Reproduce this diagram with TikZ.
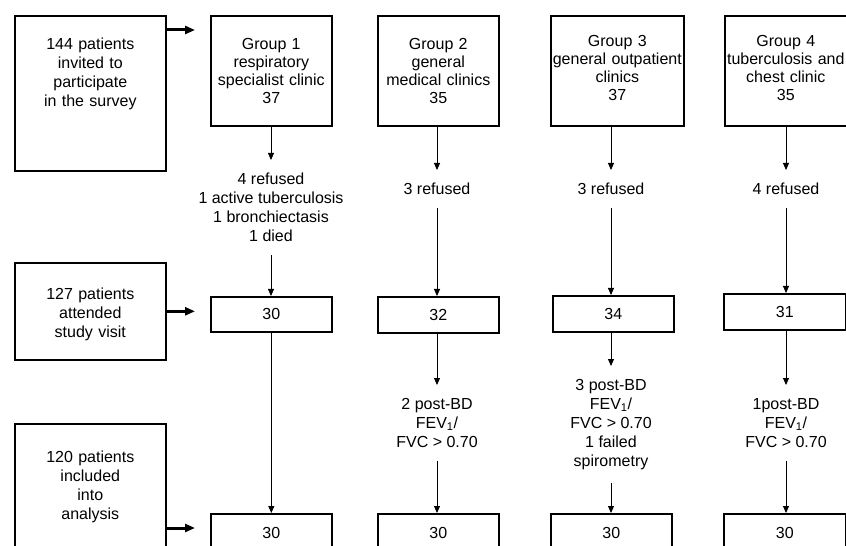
\documentclass[tikz,border=0pt]{standalone}
\usepackage{fontspec}
\setmainfont{Liberation Sans}
\usetikzlibrary{arrows.meta}

\begin{document}
\begin{tikzpicture}[x=1bp, y=-1bp,
		caja/.style={draw, line width=1.6bp, inner sep=0pt, align=center, anchor=north west,
			font=\fontsize{16bp}{19bp}\selectfont},
		grupo/.style={caja, text width=121bp, text height=34bp, text depth=76bp,
			font=\fontsize{16bp}{18bp}\selectfont},
		cuenta/.style={caja, text width=121bp},
		etiqueta/.style={align=center, inner xsep=0pt, inner ysep=13bp, anchor=north,
			font=\fontsize{16bp}{19bp}\selectfont},
		flecha/.style={line width=0.9bp, -{Triangle[length=7bp,width=6bp]}},
		flechagruesa/.style={line width=3bp, -{Triangle[length=10bp,width=8bp]}, shorten >=15bp}]

		% Marco del dibujo
		\useasboundingbox (0,0) rectangle (846,546);
		\clip (0,0) rectangle (846,546);

		% Cajas de la izquierda
		\node[caja, text width=151bp, text height=34bp, text depth=121bp] (inv) at (14,15)
			{144 patients\\invited to\\participate\\in the survey};
		\node[caja, text width=151bp, text height=37bp, text depth=60bp] (att) at (14,262)
			{127 patients\\attended\\study visit};
		\node[caja, text width=151bp, text height=39bp, text depth=101bp] (inc) at (14,423)
			{120 patients\\included\\into\\analysis};

		% Grupos
		\node[grupo] (g1) at (210,15) {Group 1\\respiratory\\specialist clinic\\37};
		\node[grupo] (g2) at (377,15) {Group 2\\general\\medical clinics\\35};
		\node[grupo, text width=133bp, text height=31bp, text depth=79bp] (g3) at (550,15)
			{Group 3\\general outpatient\\clinics\\37};
		\node[grupo, text width=122bp, text height=31bp, text depth=79bp] (g4) at (724,15)
			{Group 4\\tuberculosis and\\chest clinic\\35};

		% Exclusiones antes de la visita
		\node[etiqueta] (r1) at (271,160) {4 refused\\1 active tuberculosis\\1 bronchiectasis\\1 died};
		\node[etiqueta] (r2) at (437,170) {3 refused};
		\node[etiqueta] (r3) at (611,170) {3 refused};
		\node[etiqueta] (r4) at (786,170) {4 refused};

		% Pacientes en la visita
		\node[cuenta, minimum height=35bp] (c1) at (210,296) {30};
		\node[cuenta, minimum height=36bp] (c2) at (377,296) {32};
		\node[cuenta, minimum height=36bp] (c3) at (552,295) {34};
		\node[cuenta, text width=122bp, minimum height=36bp] (c4) at (723,293) {31};

		% Exclusiones despues de la espirometria
		\node[etiqueta] (p2) at (437,385) {2 post-BD\\FEV\textsubscript{1}/\\FVC > 0.70};
		\node[etiqueta] (p3) at (611,366) {3 post-BD\\FEV\textsubscript{1}/\\FVC > 0.70\\1 failed\\spirometry};
		\node[etiqueta] (p4) at (786,385) {1post-BD\\FEV\textsubscript{1}/\\FVC > 0.70};

		% Pacientes analizados
		\node[cuenta, minimum height=38bp] (e1) at (210,513) {30};
		\node[cuenta, minimum height=38bp] (e2) at (377,513) {30};
		\node[cuenta, minimum height=38bp] (e3) at (550,513) {30};
		\node[cuenta, text width=122bp, minimum height=38bp] (e4) at (723,513) {30};

		% Flechas gruesas
		\draw[flechagruesa] ([yshift=-15bp]inv.north east) -- ([yshift=-15bp]inv.north east -| g1.west);
		\draw[flechagruesa] (att.east) -- (att.east -| c1.west);
		\draw[flechagruesa] ([yshift=-105bp]inc.north east) -- ([yshift=-105bp]inc.north east -| e1.west);

		% Columna 1
		\draw[flecha] (r1.north |- g1.south) -- (r1.north);
		\draw[flecha] (r1.south) -- (r1.south |- c1.north);
		\draw[flecha] (c1) -- (e1);

		% Columnas 2 a 4
		\foreach \i in {2,3,4} {
			\draw[flecha] (r\i.north |- g\i.south) -- (r\i.north);
			\draw[flecha] (r\i.south) -- (r\i.south |- c\i.north);
			\draw[flecha] (p\i.north |- c\i.south) -- (p\i.north);
			\draw[flecha] (p\i.south) -- (p\i.south |- e\i.north);
		}

	\end{tikzpicture}
\end{document}
